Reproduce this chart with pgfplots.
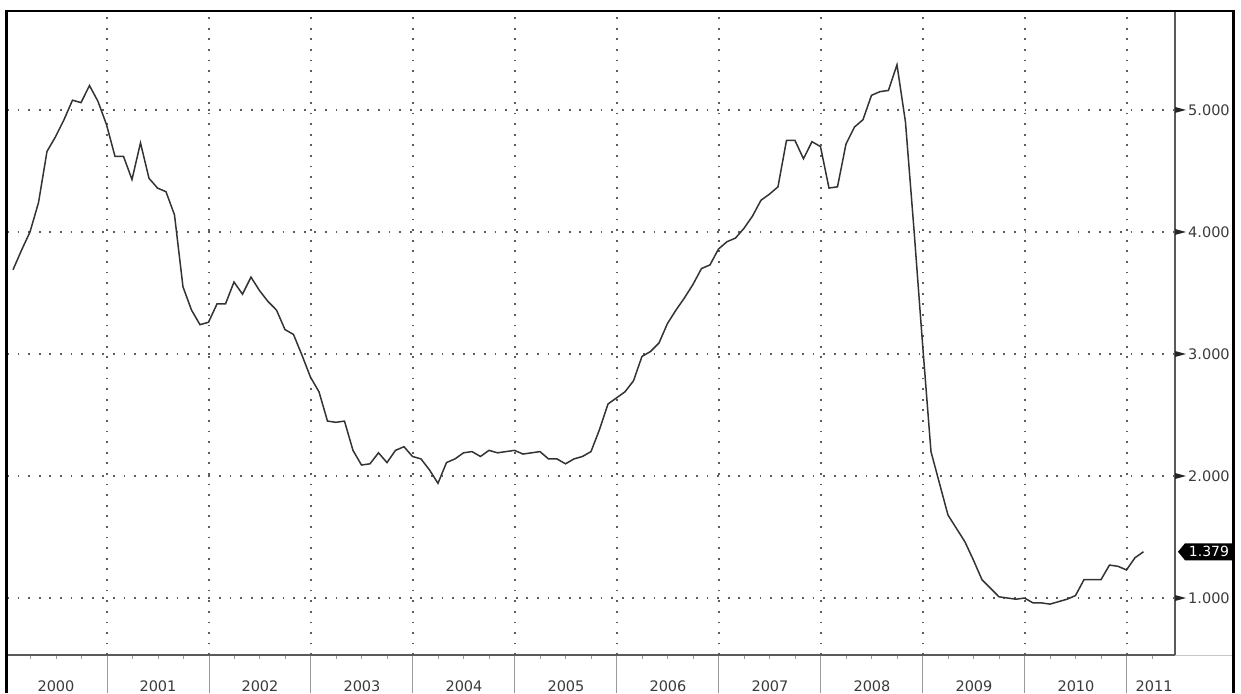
\documentclass[border=0pt]{standalone}
\usepackage{fontspec}
\setmainfont{DejaVu Sans}
\usepackage{pgfplots}
\pgfplotsset{compat=1.18}
\usepackage{pgfplotstable}
\definecolor{txt}{HTML}{3A3A3A}
\definecolor{gridc}{HTML}{5C5C5C}
\definecolor{axc}{HTML}{5A5A5A}
\definecolor{sepc}{HTML}{9A9A9A}

\pgfplotstableread{
m v
0 3.69
1 3.85
2 4.00
3 4.24
4 4.66
5 4.78
6 4.92
7 5.08
8 5.06
9 5.20
10 5.07
11 4.88
12 4.62
13 4.62
14 4.43
15 4.73
16 4.44
17 4.36
18 4.33
19 4.14
20 3.55
21 3.36
22 3.24
23 3.26
24 3.41
25 3.41
26 3.59
27 3.49
28 3.63
29 3.52
30 3.43
31 3.36
32 3.20
33 3.16
34 2.99
35 2.81
36 2.69
37 2.45
38 2.44
39 2.45
40 2.21
41 2.09
42 2.10
43 2.19
44 2.11
45 2.21
46 2.24
47 2.16
48 2.14
49 2.05
50 1.94
51 2.11
52 2.14
53 2.19
54 2.20
55 2.16
56 2.21
57 2.19
58 2.20
59 2.21
60 2.18
61 2.19
62 2.20
63 2.14
64 2.14
65 2.10
66 2.14
67 2.16
68 2.20
69 2.38
70 2.59
71 2.64
72 2.69
73 2.78
74 2.98
75 3.02
76 3.09
77 3.25
78 3.36
79 3.46
80 3.57
81 3.70
82 3.73
83 3.86
84 3.92
85 3.95
86 4.03
87 4.13
88 4.26
89 4.31
90 4.37
91 4.75
92 4.75
93 4.60
94 4.74
95 4.70
96 4.36
97 4.37
98 4.72
99 4.86
100 4.92
101 5.12
102 5.15
103 5.16
104 5.37
105 4.90
106 4.02
107 3.09
108 2.20
109 1.94
110 1.68
111 1.57
112 1.46
113 1.31
114 1.15
115 1.08
116 1.01
117 1.00
118 0.99
119 1.00
120 0.96
121 0.96
122 0.95
123 0.97
124 0.99
125 1.02
126 1.15
127 1.15
128 1.15
129 1.27
130 1.26
131 1.23
132 1.33
133 1.379
}\datatable

\begin{document}
\begin{tikzpicture}
\useasboundingbox (0,0) rectangle (1241pt,693pt);
\begin{axis}[
  at={(7pt,38pt)}, anchor=south west,
  width=1168pt, height=644pt, scale only axis,
  xmin=0.235, xmax=137.65, ymin=0.533, ymax=5.811,
  clip=false,
  axis x line*=bottom, axis y line*=right,
  axis line style={axc, line width=1.1pt},
  tick align=outside,
  xtick={12,24,...,132}, xticklabels={},
  minor xtick={3,6,...,135},
  ytick={1,2,3,4,5},
  yticklabels={1.000,2.000,3.000,4.000,5.000},
  minor ytick={1.5,2.5,3.5,4.5,5.5},
  major tick length=38pt,
  minor tick length=3.5pt,
  xtick style={draw=sepc, line width=1pt},
  ytick style={draw=none},
  minor tick style={draw=axc, line width=1pt},
  yticklabel style={anchor=west, inner sep=0pt, xshift=-25pt, text=txt, font=\fontsize{14.5}{16}\selectfont},
  grid=major,
  major grid style={draw=gridc, line width=1.7pt, dash pattern=on 1.7pt off 8.9pt},
]
\addplot[color=black!80, line width=1.5pt] table[x expr=\thisrow{m}+0.94, y=v]{\datatable};

\coordinate (a1) at ({rel axis cs:1,0}|-{axis cs:0,1});
\coordinate (a2) at ({rel axis cs:1,0}|-{axis cs:0,2});
\coordinate (a3) at ({rel axis cs:1,0}|-{axis cs:0,3});
\coordinate (a4) at ({rel axis cs:1,0}|-{axis cs:0,4});
\coordinate (a5) at ({rel axis cs:1,0}|-{axis cs:0,5});
\coordinate (tag) at ({rel axis cs:1,0}|-{axis cs:0,1.379});

% year labels
\pgfplotsinvokeforeach{0,1,...,10}{
  \node[text=txt, inner sep=0pt, font=\fontsize{14.5}{16}\selectfont] at ({axis cs:#1*12+6,0}|-{rel axis cs:0,0}) [yshift=-31.5pt] {\pgfmathparse{int(2000+#1)}\pgfmathresult};
}
\node[text=txt, inner sep=0pt, font=\fontsize{14.5}{16}\selectfont] at ({axis cs:135.2,0}|-{rel axis cs:0,0}) [yshift=-31.5pt] {2011};
\end{axis}
% tick arrows on the right axis
\foreach \i in {1,...,5}{
  \fill[black!85] (a\i) ++(0,3pt) -- ++(11pt,-3pt) -- ++(-11pt,-3pt) -- cycle;
}
% last value tag
\fill[black] (tag) ++(3pt,0) -- ++(7pt,8.5pt) -- ++(48pt,0) -- ++(0,-17pt) -- ++(-48pt,0) -- cycle;
\node[text=white, inner sep=0pt, font=\fontsize{14}{15}\selectfont] at ([xshift=34pt]tag) {1.379};
% extension of the bottom line and the outer frame
\draw[gray!45, line width=0.8pt] (1175pt,38pt) -- (1233pt,38pt);
\draw[black, line width=2.5pt] (6.5pt,0pt) -- (6.5pt,682pt) -- (1233.5pt,682pt) -- (1233.5pt,0pt);
\end{tikzpicture}
\end{document}
